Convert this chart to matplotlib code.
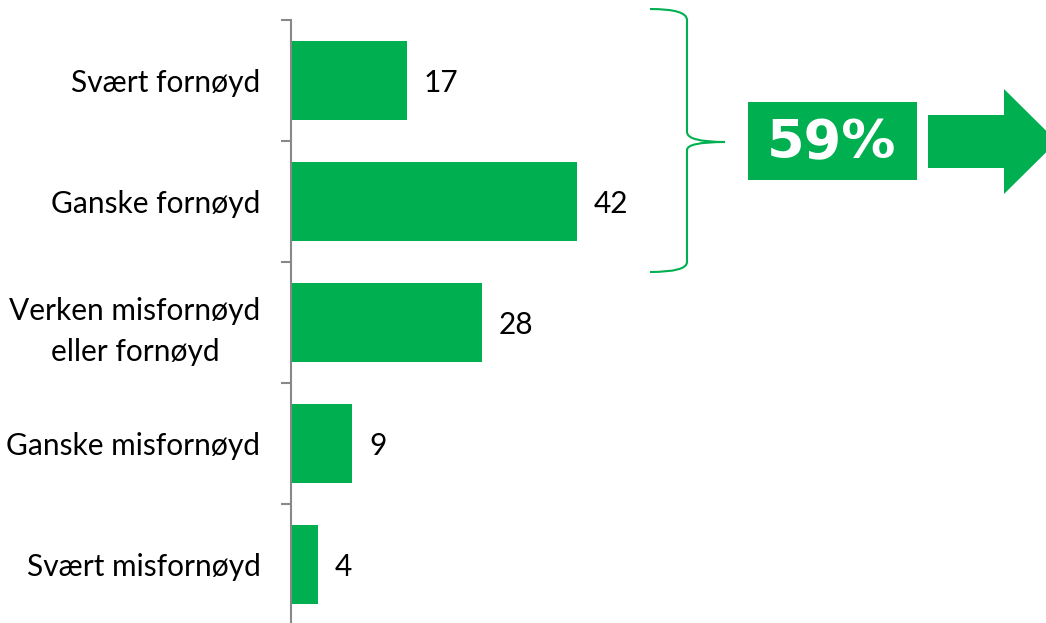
import matplotlib.pyplot as plt
from matplotlib.path import Path
from matplotlib.patches import PathPatch, Rectangle, Polygon

categories = ["Svært fornøyd", "Ganske fornøyd", "Verken misfornøyd\neller fornøyd",
              "Ganske misfornøyd", "Svært misfornøyd"]
values = [17, 42, 28, 9, 4]

green = "#00B050"
W, H = 1046, 623

plt.rcParams["font.family"] = ["Lato", "DejaVu Sans"]

fig = plt.figure(figsize=(W / 100, H / 100), dpi=100)

# bar axes: spine at x=291px, 6.82 px per unit, rows between y=20px and y=625px
x0, ppu = 291, 6.82
ax = fig.add_axes([x0 / W, (H - 625) / H, 50 * ppu / W, 605 / H])
ypos = list(range(len(categories)))
ax.barh(ypos, values, height=0.66, color=green)
ax.set_xlim(0, 50)
ax.set_ylim(len(categories) - 0.5, -0.5)

for y, v in zip(ypos, values):
    ax.annotate(str(v), (v, y), xytext=(12, -2), textcoords="offset points",
                ha="left", va="center", fontsize=21.5)

ax.set_yticks([y - 0.5 for y in ypos] + [len(categories) - 0.5])
ax.set_yticklabels([])
ax.set_yticks(ypos, minor=True)
ax.set_yticklabels(categories, minor=True, fontsize=21.5, ha="right",
                   multialignment="center", linespacing=1.55)
ax.tick_params(axis="y", which="major", length=7, width=1.5, color="#888888", direction="out")
ax.tick_params(axis="y", which="minor", length=0, pad=22)
ax.set_xticks([])
for side in ["top", "right", "bottom"]:
    ax.spines[side].set_visible(False)
ax.spines["left"].set_color("#888888")
ax.spines["left"].set_linewidth(1.5)

# overlay in pixel coordinates for the bracket, the share box and the arrow
ov = fig.add_axes([0, 0, 1, 1])
ov.set_xlim(0, W)
ov.set_ylim(H, 0)
ov.axis("off")

verts = [(650, 272), (687, 272), (687, 262),
         (687, 150), (687, 142), (725, 142),
         (687, 142), (687, 132),
         (687, 20), (687, 9), (650, 9)]
codes = [Path.MOVETO, Path.CURVE3, Path.CURVE3,
         Path.LINETO, Path.CURVE3, Path.CURVE3,
         Path.CURVE3, Path.CURVE3,
         Path.LINETO, Path.CURVE3, Path.CURVE3]
ov.add_patch(PathPatch(Path(verts, codes), fill=False, edgecolor=green, lw=1.5))

share = values[0] + values[1]
ov.add_patch(Rectangle((748, 102), 169, 78, facecolor=green, edgecolor="none"))
ov.text(832, 143, f"{share}%", color="white", fontsize=39, fontweight="bold",
        family="DejaVu Sans", ha="center", va="center")

ov.add_patch(Polygon([(928, 115), (1004, 115), (1004, 89), (1057, 141.5),
                      (1004, 194), (1004, 168), (928, 168)],
                     closed=True, facecolor=green, edgecolor="none"))

fig.savefig("out.png", dpi=100)
